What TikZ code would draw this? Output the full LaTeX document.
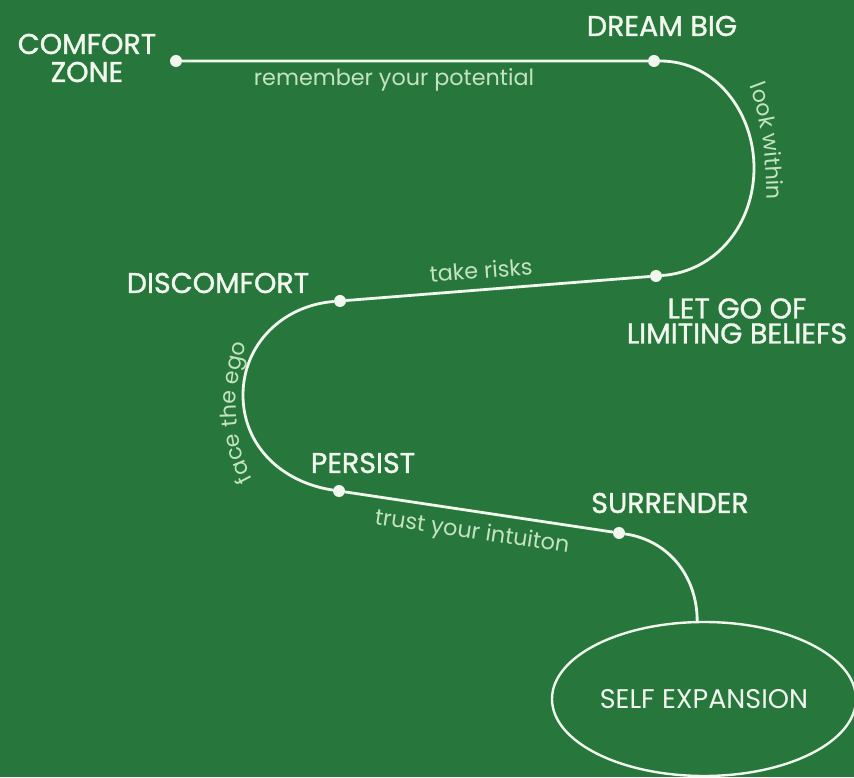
\documentclass[tikz,border=0pt]{standalone}
\usepackage{fontspec}
\setmainfont{Poppins}
\newfontfamily\capfont{Poppins}[FakeBold=1.2]
\newfontfamily\labfont{Poppins}
\usetikzlibrary{shapes.geometric,decorations.text}
\definecolor{bg}{HTML}{27773D}
\definecolor{ink}{HTML}{F2F7EE}
\definecolor{labcol}{HTML}{C4E3C0}
\begin{document}
\begin{tikzpicture}[x=1pt,y=1pt,
  road/.style={draw=ink, line width=2.8pt},
  roaddot/.style={circle, fill=ink, minimum size=12pt, inner sep=0pt},
  stagetitle/.style={text=ink, font=\capfont\fontsize{28.5}{28}\selectfont, align=center, inner sep=0pt},
  pathlab/.style={text=labcol, font=\labfont\fontsize{22.3}{24}\selectfont, inner sep=0pt},
  curvtext/.style={decorate, decoration={text along path, text color=labcol,
     text={|\labfont\fontsize{22}{24}\selectfont|#1}, text align=left}}]
\fill[bg] (0,0) rectangle (854,777);
\useasboundingbox (0,0) rectangle (854,777);

% dots
\node[roaddot] (cz) at (176,716) {};
\node[roaddot] (db) at (654,716) {};
\node[roaddot] (lg) at (656,501) {};
\node[roaddot] (dc) at (340,476) {};
\node[roaddot] (ps) at (339,286) {};
\node[roaddot] (su) at (619,244) {};
\coordinate (rr) at (754,609);
\coordinate (ll) at (243,382);

% goal ellipse
\node[ellipse, draw=ink, line width=2.4pt, minimum width=300pt, minimum height=154pt,
      text=ink, font=\labfont\fontsize{27}{28}\selectfont] (se) at (704,78) {SELF EXPANSION};

% road
\draw[road] (cz) -- (db) to[out=0,in=90] (rr) to[out=270,in=4.5] (lg) -- (dc)
  to[out=184.5,in=90] (ll) to[out=270,in=171.5] (ps) -- (su) to[out=-8.5,in=90] (se.95);

% stage titles
\node[stagetitle] (tcz) at (87,719) {COMFORT\\ZONE};
\node[stagetitle] (tdb) at (662,751) {DREAM BIG};
\node[stagetitle, font=\capfont\fontsize{28.5}{25}\selectfont] (tlg) at (737,456) {LET GO OF\\LIMITING BELIEFS};
\node[stagetitle] (tdc) at (218,494) {DISCOMFORT};
\node[stagetitle] (tps) at (363,314) {PERSIST};
\node[stagetitle] (tsu) at (670,274) {SURRENDER};

% path labels
\node[pathlab] (l1) at (394,697) {remember your potential};
\node[pathlab, rotate=4.5] (l2) at (481,507) {take risks};
\node[pathlab, rotate=-8.5] (l3) at (472,244) {trust your intuiton};
\path[curvtext={look within}] (749,691) .. controls (763,655) and (770,610) .. (766,505);
\path[curvtext={face the ego}] (253,298) .. controls (229,340) and (229,410) .. (262,470);
\end{tikzpicture}
\end{document}
